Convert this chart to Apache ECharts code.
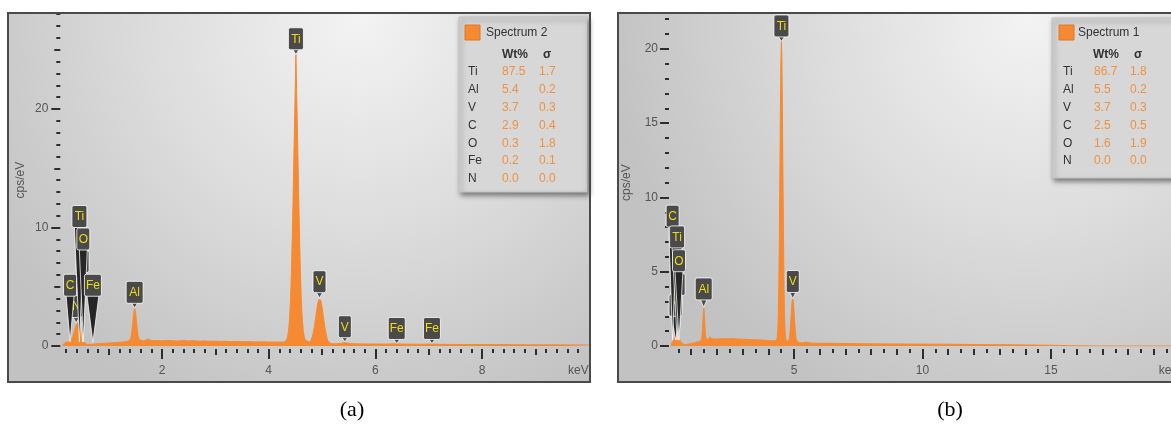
<!DOCTYPE html>
<html>
<head>
<meta charset="utf-8">
<script src="https://cdn.jsdelivr.net/npm/echarts@6/dist/echarts.min.js"></script>
<style>html,body{margin:0;padding:0;background:#fff}#c{width:1171px;height:426px}</style>
</head>
<body>
<div id="c"></div>
<script>
// ---------- Spectrum 2 (panel a) ----------
const energyA = [0.14,0.16,0.20,0.24,0.28,0.31,0.33,0.35,0.37,0.39,0.41,0.42,0.43,0.45,0.47,0.49,0.51,0.53,0.56,0.60,
  0.65,0.70,0.75,0.80,0.86,0.92,1.00,1.08,1.16,1.24,1.30,1.36,
  1.388,1.408,1.428,1.448,1.468,1.488,1.508,1.528,1.548,1.568,1.588,
  1.65,1.70,1.74,1.78,1.84,1.92,2.00,2.10,2.20,2.30,2.40,2.50,2.60,2.70,2.80,2.90,3.00,3.10,3.20,3.30,3.40,3.50,3.60,3.70,3.80,3.90,4.00,4.10,4.20,4.27,
  4.31,4.33,4.35,4.37,4.39,4.41,4.43,4.45,4.47,4.49,4.51,4.53,4.55,4.57,4.59,4.61,4.63,4.65,4.67,4.69,4.71,4.73,4.75,
  4.775,4.795,4.815,4.835,4.855,4.875,4.895,4.915,4.935,4.955,4.975,4.995,5.015,5.035,5.055,5.075,5.095,5.115,5.135,
  5.18,5.24,5.30,5.37,5.41,5.44,5.48,5.55,5.65,5.80,6.00,6.20,6.40,6.50,6.70,6.90,7.06,7.20,7.50,7.80,8.10,8.40,8.70,9.00,9.30,9.60,10.00];
const cpsA = [0,0.2,0.3,0.35,0.45,0.6,0.8,1.1,1.45,1.75,1.93,1.97,1.93,1.75,1.4,1.0,0.65,0.4,0.22,0.15,
  0.13,0.15,0.17,0.2,0.19,0.23,0.25,0.27,0.3,0.32,0.35,0.4,
  0.43,0.55,0.94,1.74,2.73,3.2,2.73,1.74,0.94,0.55,0.45,
  0.42,0.5,0.58,0.48,0.44,0.46,0.43,0.47,0.44,0.42,0.46,0.43,0.44,0.41,0.43,0.4,0.41,0.39,0.4,0.37,0.38,0.36,0.37,0.35,0.34,0.35,0.33,0.34,0.33,0.34,
  0.35,0.46,0.7,1.2,2.2,4.0,6.9,10.9,15.5,20.1,24.6,20.1,15.5,10.9,6.9,4.0,2.2,1.2,0.7,0.48,0.42,0.4,0.38,
  0.33,0.48,0.74,1.13,1.6,2.2,2.86,3.46,3.9,4.05,3.88,3.42,2.8,2.12,1.52,1.03,0.64,0.38,0.24,
  0.2,0.19,0.19,0.22,0.3,0.33,0.24,0.19,0.18,0.17,0.17,0.16,0.19,0.16,0.15,0.15,0.17,0.14,0.13,0.13,0.12,0.12,0.11,0.1,0.1,0.09,0.09];

// peak markers (a): element, energy (keV), tip height (cps), marker-box base height (cps)
const peakNameA = ['V','N','Ti','O','C','Fe','Al','Ti','V','V','Fe','Fe'];
const peakKeVA  = [0.511,0.392,0.452,0.525,0.277,0.705,1.487,4.51,4.952,5.427,6.40,7.06];
const peakTipA  = [0.35,1.95,0.35,0.35,0.35,0.3,3.2,24.6,4.05,0.35,0.2,0.2];
const peakBoxA  = [6.2,2.4,10.0,8.1,4.2,4.2,3.6,25.0,4.5,0.7,0.55,0.55];

// quantification table (a)
const titleA = 'Spectrum 2';
const elemA  = ['Ti','Al','V','C','O','Fe','N'];
const wtA    = [87.5,5.4,3.7,2.9,0.3,0.2,0.0];
const sigA   = [1.7,0.2,0.3,0.4,1.8,0.1,0.0];

// ---------- Spectrum 1 (panel b) ----------
const energyB = [0.22,0.25,0.29,0.33,0.36,0.39,0.42,0.45,0.48,0.51,0.54,0.58,0.63,0.70,0.80,0.90,1.00,1.10,1.20,1.30,1.38,
  1.39,1.41,1.43,1.45,1.47,1.49,1.51,1.53,1.55,1.57,1.59,
  1.65,1.70,1.74,1.78,1.85,2.00,2.20,2.40,2.60,2.80,3.00,3.20,3.40,3.60,3.80,4.00,4.15,4.25,
  4.31,4.33,4.35,4.37,4.39,4.41,4.43,4.45,4.47,4.49,4.51,4.53,4.55,4.57,4.59,4.61,4.63,4.65,4.67,4.69,4.71,4.74,4.77,
  4.79,4.81,4.83,4.85,4.87,4.89,4.91,4.93,4.95,4.97,4.99,5.01,5.03,5.05,5.07,5.09,5.11,
  5.15,5.25,5.35,5.43,5.50,5.70,6.00,6.40,6.80,7.20,7.60,8.00,8.50,9.00,9.50,10.00,10.50,11.00,11.50,12.00,12.50,13.00,13.50,14.00,14.50,15.00,15.30,15.60,16.00,17.00,20.00];
const cpsB = [0,0.2,0.3,0.45,0.65,1.0,1.35,1.55,1.35,0.95,0.55,0.3,0.18,0.12,0.1,0.13,0.17,0.2,0.25,0.3,0.35,
  0.42,0.52,0.85,1.5,2.2,2.6,2.2,1.5,0.85,0.52,0.42,
  0.42,0.5,0.62,0.48,0.45,0.47,0.5,0.48,0.5,0.47,0.46,0.44,0.43,0.41,0.4,0.37,0.35,0.36,
  0.33,0.4,0.6,1.09,2.17,4.16,7.3,11.45,15.8,19.2,20.5,19.2,15.8,11.45,7.3,4.16,2.17,1.09,0.6,0.4,0.33,0.3,0.3,
  0.32,0.44,0.65,1.0,1.49,2.06,2.62,3.04,3.2,3.04,2.62,2.06,1.49,1.0,0.65,0.44,0.32,
  0.25,0.22,0.2,0.26,0.2,0.19,0.18,0.18,0.17,0.16,0.15,0.15,0.14,0.14,0.13,0.13,0.12,0.12,0.11,0.1,0.09,0.09,0.08,0.07,0.06,0.05,0.04,0.02,0.01,0,0];

const peakNameB = ['V','N','C','Ti','O','Al','Ti','V'];
const peakKeVB  = [0.511,0.392,0.277,0.452,0.525,1.487,4.51,4.952];
const peakTipB  = [0.4,0.4,0.4,0.4,0.4,2.6,20.5,3.2];
const peakBoxB  = [3.4,2.0,8.0,6.6,5.0,3.1,20.8,3.6];

const titleB = 'Spectrum 1';
const elemB  = ['Ti','Al','V','C','O','N'];
const wtB    = [86.7,5.5,3.7,2.5,1.6,0.0];
const sigB   = [1.8,0.2,0.3,0.5,1.9,0.0];

// ---------- axis tick values ----------
function steps(a, b, s) { const out = []; for (let v = a; v <= b + 1e-9; v += s) out.push(Math.round(v * 1000) / 1000); return out; }
const xMajorA = [2,4,6,8], xMidA = [1,3,5,7,9], xMinorA = steps(0.2, 9.8, 0.2);
const yMajorA = [0,10,20], yMidA = [5,15,25], yMinorA = steps(1, 28, 1);
const xMajorB = [5,10,15], xMidB = steps(1, 19, 1), xMinorB = steps(0.5, 19.5, 0.5);
const yMajorB = [0,5,10,15,20], yMinorB = steps(1, 22, 1);

// ---------- chart ----------
const FONT = '"Liberation Sans", Arial, sans-serif';
const ORANGE = '#f68a33';
const TICK = {color:'#2e2e2e', width:2};

function xAx(gi, max, ticks, len, labels, name) {
  return {
    type:'value', gridIndex:gi, min:0, max:max, position:'bottom', offset:3,
    axisLine:{show:false, onZero:false}, splitLine:{show:false},
    axisTick:{show:true, customValues:ticks, length:len, lineStyle:TICK},
    axisLabel: labels ? {show:true, customValues:labels, margin:16, color:'#555', fontSize:12, fontFamily:FONT} : {show:false},
    name: name || '', nameLocation:'end', nameGap:0,
    nameTextStyle:{align:'right', verticalAlign:'top', padding:[16,0,0,0], color:'#555', fontSize:12, fontFamily:FONT}
  };
}
function yAx(gi, max, ticks, len, labels, off, margin, nameGap) {
  return {
    type:'value', gridIndex:gi, min:0, max:max, position:'left', offset:off,
    axisLine:{show:false, onZero:false}, splitLine:{show:false},
    axisTick:{show:true, customValues:ticks, length:len, lineStyle:TICK},
    axisLabel: labels ? {show:true, customValues:labels, margin:margin, color:'#555', fontSize:12, fontFamily:FONT} : {show:false},
    name: labels ? 'cps/eV' : '', nameLocation:'middle', nameGap:nameGap, nameRotate:90,
    nameTextStyle:{color:'#555', fontSize:12, fontFamily:FONT}
  };
}

function spectrum(xs, ys, xi, yi) {
  return {
    type:'line', xAxisIndex:xi, yAxisIndex:yi, z:2, silent:true,
    data: xs.map((x, i) => [x, ys[i]]),
    showSymbol:false, smooth:false,
    lineStyle:{color:ORANGE, width:1}, itemStyle:{color:ORANGE},
    areaStyle:{color:ORANGE, opacity:1}
  };
}

function markers(names, keV, tip, box, xi, yi) {
  return {
    type:'custom', xAxisIndex:xi, yAxisIndex:yi, z:6, silent:true, clip:false,
    data: keV.map((k, i) => [k, tip[i], box[i]]),
    encode:{x:0, y:[1,2]},
    renderItem: function (params, api) {
      const name = names[params.dataIndex];
      const t = api.coord([api.value(0), api.value(1)]);
      const b = api.coord([api.value(0), api.value(2)]);
      const w = name.length === 1 ? 13 : (name === 'Ti' ? 15 : 17);
      const h = 22;
      const isLong = (t[1] - b[1]) > 9;
      const pw = isLong ? w - 5 : 7;
      return {
        type:'group',
        children:[
          {type:'polygon', shape:{points:[[t[0]-pw/2, b[1]-1],[t[0]+pw/2, b[1]-1],[t[0], t[1]]]},
           style:{fill:isLong ? '#262626' : '#4a4a4a', stroke:'rgba(255,255,255,0.75)', lineWidth:1}},
          {type:'rect', shape:{x:t[0]-w/2, y:b[1]-h, width:w, height:h, r:2},
           style:{fill:'#4a4a4a', stroke:'rgba(255,255,255,0.8)', lineWidth:1}},
          {type:'text', style:{text:name, x:t[0], y:b[1]-h/2 + 0.5, align:'center', verticalAlign:'middle',
            textAlign:'center', textVerticalAlign:'middle', fill:'#f0dc10', font:'12px ' + FONT}}
        ]
      };
    }
  };
}

function table(box, title, elems, wt, sig, pos) {
  const els = [
    {type:'rect', z:20, shape:{x:box[0], y:box[1], width:box[2], height:box[3]},
     style:{fill:'#d7d7d7', stroke:'#c2c2c2', lineWidth:1, shadowBlur:5, shadowOffsetX:2, shadowOffsetY:3, shadowColor:'rgba(0,0,0,0.45)'}},
    {type:'rect', z:21, shape:{x:pos.sq[0], y:pos.sq[1], width:15, height:15},
     style:{fill:ORANGE, stroke:'#e07528', lineWidth:1}},
    {type:'text', z:21, style:{text:title, x:pos.title[0], y:pos.title[1], textVerticalAlign:'middle', verticalAlign:'middle', fill:'#333', font:'12px ' + FONT}},
    {type:'text', z:21, style:{text:'Wt%', x:pos.wtH, y:pos.headY, textVerticalAlign:'middle', verticalAlign:'middle', fill:'#333', font:'bold 12px ' + FONT}},
    {type:'text', z:21, style:{text:'σ', x:pos.sgH, y:pos.headY, textVerticalAlign:'middle', verticalAlign:'middle', fill:'#333', font:'bold 12px ' + FONT}}
  ];
  elems.forEach((e, i) => {
    const y = pos.row0 + i * pos.dy;
    els.push({type:'text', z:21, style:{text:e, x:pos.el, y:y, textVerticalAlign:'middle', verticalAlign:'middle', fill:'#333', font:'12px ' + FONT}});
    els.push({type:'text', z:21, style:{text:wt[i].toFixed(1), x:pos.wt, y:y, textVerticalAlign:'middle', verticalAlign:'middle', fill:'#f0913f', font:'12px ' + FONT}});
    els.push({type:'text', z:21, style:{text:sig[i].toFixed(1), x:pos.sg, y:y, textVerticalAlign:'middle', verticalAlign:'middle', fill:'#f0913f', font:'12px ' + FONT}});
  });
  return els;
}

function panelBg(x, y, w, h, cx) {
  return {type:'rect', z:-10, shape:{x:x, y:y, width:w, height:h},
    style:{fill:{type:'radial', x:cx, y:0.02, r:1.15, colorStops:[
      {offset:0, color:'#f3f3f3'}, {offset:0.5, color:'#dcdcdc'}, {offset:1, color:'#c2c2c2'}]}}};
}
function panelFrame(x, y, w, h) {
  return {type:'rect', z:30, shape:{x:x, y:y, width:w, height:h},
    style:{fill:'none', stroke:'#4a4a4a', lineWidth:2}};
}

const option = {
  animation:false,
  backgroundColor:'#ffffff',
  grid:[
    {left:55.3, top:14.2, width:533.5, height:331.8, containLabel:false, outerBoundsMode:'none'},
    {left:665.5, top:19.1, width:514, height:326.9, containLabel:false, outerBoundsMode:'none'}
  ],
  xAxis:[
    xAx(0, 10, xMajorA, 10, xMajorA, 'keV'),
    xAx(0, 10, xMidA, 6),
    xAx(0, 10, xMinorA, 4),
    xAx(1, 20, xMajorB, 10, xMajorB, 'keV'),
    xAx(1, 20, xMidB, 6),
    xAx(1, 20, xMinorB, 4)
  ],
  yAxis:[
    yAx(0, 28, yMajorA, 9, yMajorA, -5, 12, 34),
    yAx(0, 28, yMidA, 6, null, -5),
    yAx(0, 28, yMinorA, 4, null, -5),
    yAx(1, 22, yMajorB, 9, yMajorB, -3.5, 11, 36),
    yAx(1, 22, yMinorB, 4, null, -3.5)
  ],
  series:[
    spectrum(energyA, cpsA, 0, 0),
    markers(peakNameA, peakKeVA, peakTipA, peakBoxA, 0, 0),
    spectrum(energyB, cpsB, 3, 3),
    markers(peakNameB, peakKeVB, peakTipB, peakBoxB, 3, 3)
  ],
  graphic:{elements:[
    panelBg(8, 13, 582, 369, 0.6),
    panelBg(618, 13, 570, 369, 0.72),
    panelFrame(8, 13, 582, 369),
    panelFrame(618, 13, 570, 369),
    ...table([459, 17, 128, 175], titleA, elemA, wtA, sigA,
      {sq:[465,25], title:[486,33], headY:55, wtH:502, sgH:543, row0:72, dy:17.8, el:468, wt:502, sg:539}),
    ...table([1052, 18, 130, 160], titleB, elemB, wtB, sigB,
      {sq:[1059,25], title:[1078,33], headY:55, wtH:1093, sgH:1134, row0:72, dy:17.8, el:1063, wt:1094, sg:1130}),
    {type:'text', z:30, style:{text:'(a)', x:352, y:410, align:'center', verticalAlign:'middle', textAlign:'center', textVerticalAlign:'middle', fill:'#000', font:'22px "Liberation Serif", serif'}},
    {type:'text', z:30, style:{text:'(b)', x:950, y:410, align:'center', verticalAlign:'middle', textAlign:'center', textVerticalAlign:'middle', fill:'#000', font:'22px "Liberation Serif", serif'}}
  ]}
};

const chart = echarts.init(document.getElementById('c'), null, {renderer:'canvas', width:1171, height:426});
chart.setOption(option);
</script>
</body>
</html>
